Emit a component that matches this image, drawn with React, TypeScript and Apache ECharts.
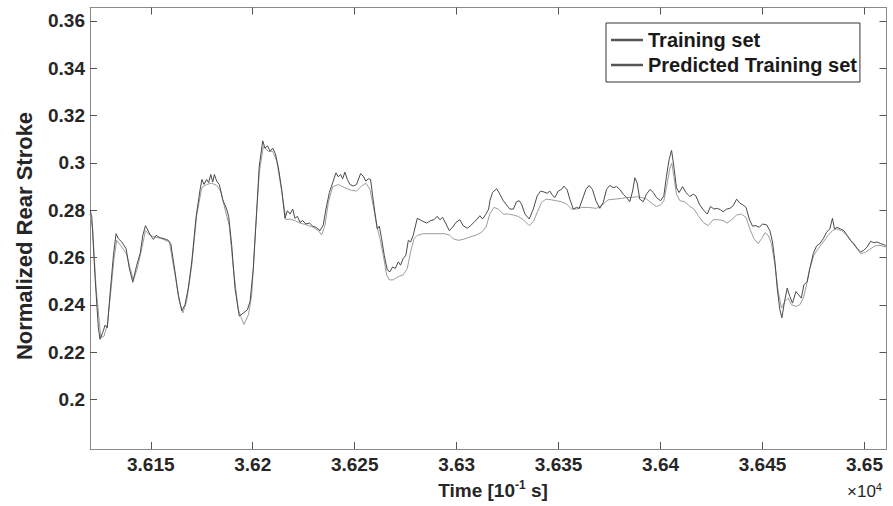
import React, { useEffect, useRef } from 'react';
import * as echarts from 'echarts';

const FONT = '"Liberation Sans", Arial, Helvetica, sans-serif';

const xTicks = [36150, 36200, 36250, 36300, 36350, 36400, 36450, 36500];
const yTicks = [0.2, 0.22, 0.24, 0.26, 0.28, 0.3, 0.32, 0.34, 0.36];
const seriesNames = ['Training set', 'Predicted Training set'];

const trainingSet: [number, number][] = [
  [36120.3, 0.2800], [36121.1, 0.2770], [36122.7, 0.2513], [36124.3, 0.2304], [36125.1, 0.2255],
  [36126.4, 0.2283], [36127.6, 0.2315], [36128.7, 0.2304], [36130.0, 0.2443], [36131.7, 0.2610],
  [36133.0, 0.2701], [36134.1, 0.2680], [36135.8, 0.2666], [36137.9, 0.2638], [36139.5, 0.2554],
  [36141.2, 0.2496], [36143.1, 0.2568], [36144.8, 0.2617], [36146.1, 0.2694], [36147.4, 0.2735],
  [36148.3, 0.2721], [36149.7, 0.2696], [36151.3, 0.2677], [36152.6, 0.2694], [36154.6, 0.2684],
  [36156.5, 0.2680], [36158.6, 0.2673], [36159.8, 0.2659], [36161.9, 0.2540], [36163.5, 0.2443],
  [36165.2, 0.2376], [36166.8, 0.2401], [36168.4, 0.2471], [36170.1, 0.2582], [36172.2, 0.2770],
  [36174.2, 0.2888], [36175.1, 0.2930], [36176.1, 0.2909], [36177.4, 0.2930], [36178.4, 0.2916],
  [36179.4, 0.2951], [36180.4, 0.2919], [36181.2, 0.2951], [36182.3, 0.2923], [36183.6, 0.2909],
  [36185.3, 0.2844], [36187.2, 0.2805], [36188.2, 0.2774], [36189.7, 0.2652], [36191.3, 0.2471],
  [36193.4, 0.2353], [36195.4, 0.2366], [36197.4, 0.2380], [36198.7, 0.2415], [36200.3, 0.2554],
  [36201.9, 0.2791], [36203.2, 0.2986], [36204.9, 0.3093], [36206.0, 0.3062], [36207.2, 0.3072],
  [36208.5, 0.3049], [36209.8, 0.3062], [36211.1, 0.3039], [36212.6, 0.2979], [36214.2, 0.2888],
  [36215.8, 0.2766], [36217.0, 0.2798],
  [36218.3, 0.2784], [36219.6, 0.2805], [36220.7, 0.2766], [36221.9, 0.2774], [36223.2, 0.2749],
  [36224.5, 0.2756], [36226.1, 0.2742], [36227.8, 0.2746], [36229.4, 0.2733], [36231.0, 0.2728],
  [36233.0, 0.2714], [36234.6, 0.2738], [36235.9, 0.2805], [36237.6, 0.2875], [36239.2, 0.2916],
  [36240.8, 0.2958], [36242.0, 0.2941], [36243.1, 0.2951], [36244.1, 0.2933], [36245.2, 0.2961],
  [36246.4, 0.2930], [36247.7, 0.2909], [36249.3, 0.2902], [36250.9, 0.2909], [36252.9, 0.2955],
  [36254.2, 0.2944], [36255.5, 0.2923], [36256.7, 0.2933], [36257.8, 0.2930], [36258.8, 0.2861],
  [36259.9, 0.2791], [36261.1, 0.2721], [36262.1, 0.2733], [36263.2, 0.2680], [36264.5, 0.2610],
  [36266.0, 0.2548], [36267.3, 0.2540], [36268.6, 0.2561], [36269.9, 0.2554], [36271.4, 0.2582],
  [36272.5, 0.2568], [36273.8, 0.2596], [36275.1, 0.2610], [36276.3, 0.2673], [36277.4, 0.2666],
  [36278.7, 0.2694], [36280.7, 0.2766], [36282.8, 0.2756], [36285.3, 0.2746], [36287.2, 0.2756],
  [36288.9, 0.2760], [36290.5, 0.2774], [36291.8, 0.2760], [36293.1, 0.2770], [36294.8, 0.2742],
  [36296.4, 0.2714], [36298.0, 0.2728], [36299.7, 0.2749], [36301.6, 0.2760], [36303.2, 0.2735],
  [36305.2, 0.2724], [36306.8, 0.2735], [36308.5, 0.2749], [36310.1, 0.2763], [36311.4, 0.2777],
  [36312.7, 0.2763], [36314.4, 0.2784], [36315.7, 0.2805],
  [36316.3, 0.2840], [36317.6, 0.2875], [36319.6, 0.2891], [36321.2, 0.2868], [36322.9, 0.2840],
  [36324.5, 0.2822], [36326.1, 0.2805], [36327.8, 0.2805], [36329.4, 0.2836], [36330.7, 0.2840],
  [36331.8, 0.2826], [36333.5, 0.2784], [36335.6, 0.2763], [36337.6, 0.2805], [36339.5, 0.2861],
  [36341.2, 0.2881], [36342.8, 0.2877], [36344.4, 0.2872], [36345.7, 0.2881], [36347.0, 0.2863],
  [36348.2, 0.2854], [36349.8, 0.2881], [36351.4, 0.2888], [36352.6, 0.2902], [36354.2, 0.2886],
  [36355.5, 0.2847], [36357.2, 0.2805], [36358.8, 0.2812], [36360.1, 0.2808], [36361.7, 0.2847],
  [36363.4, 0.2888], [36365.0, 0.2905], [36366.6, 0.2888], [36368.3, 0.2840], [36370.2, 0.2808],
  [36371.9, 0.2833], [36373.5, 0.2888], [36375.1, 0.2905], [36376.8, 0.2895], [36378.4, 0.2900],
  [36380.0, 0.2888], [36381.7, 0.2868], [36383.3, 0.2854], [36384.9, 0.2836], [36386.3, 0.2881],
  [36387.4, 0.2937], [36388.5, 0.2916], [36389.8, 0.2847], [36391.5, 0.2836], [36393.1, 0.2868],
  [36394.8, 0.2888], [36396.4, 0.2875], [36398.0, 0.2854], [36400.0, 0.2840], [36401.6, 0.2861],
  [36402.9, 0.2944], [36404.2, 0.3014], [36405.4, 0.3053], [36406.5, 0.2986], [36407.8, 0.2895],
  [36409.1, 0.2875], [36410.8, 0.2900], [36412.4, 0.2875],
  [36414.4, 0.2858], [36416.0, 0.2868], [36417.3, 0.2861], [36419.0, 0.2826], [36420.9, 0.2802],
  [36422.9, 0.2784], [36424.5, 0.2816], [36426.2, 0.2805], [36427.8, 0.2808], [36429.4, 0.2802],
  [36430.7, 0.2794], [36432.4, 0.2805], [36434.0, 0.2808], [36435.6, 0.2819], [36437.3, 0.2847],
  [36438.9, 0.2830], [36440.5, 0.2822], [36441.9, 0.2812], [36443.5, 0.2763], [36445.1, 0.2733],
  [36446.8, 0.2735], [36448.4, 0.2728], [36450.0, 0.2742], [36452.0, 0.2738], [36453.6, 0.2714],
  [36454.9, 0.2666], [36456.1, 0.2582], [36457.2, 0.2471], [36458.5, 0.2380], [36459.5, 0.2346],
  [36460.8, 0.2415], [36462.1, 0.2471], [36463.4, 0.2436], [36464.7, 0.2408], [36466.4, 0.2457],
  [36467.7, 0.2443], [36469.0, 0.2429], [36470.3, 0.2485], [36471.9, 0.2499], [36473.2, 0.2554],
  [36474.9, 0.2617], [36476.5, 0.2649], [36478.1, 0.2659], [36479.8, 0.2680], [36481.4, 0.2707],
  [36483.0, 0.2721], [36484.3, 0.2766], [36485.3, 0.2721], [36486.6, 0.2728], [36488.3, 0.2721],
  [36489.9, 0.2714], [36491.5, 0.2694], [36493.2, 0.2673], [36494.8, 0.2659], [36496.4, 0.2638],
  [36498.1, 0.2624], [36499.7, 0.2631], [36501.3, 0.2645], [36503.0, 0.2669], [36504.6, 0.2663],
  [36506.2, 0.2666], [36507.9, 0.2659], [36509.5, 0.2655], [36510.5, 0.2649],
];

const predictedSet: [number, number][] = [
  [36120.3, 0.2784], [36121.5, 0.2721], [36123.2, 0.2471], [36125.5, 0.2262], [36127.1, 0.2269],
  [36128.7, 0.2318], [36130.4, 0.2457], [36132.0, 0.2596], [36133.3, 0.2673], [36135.8, 0.2645],
  [36138.2, 0.2613], [36139.9, 0.2554], [36141.5, 0.2506], [36143.4, 0.2554], [36145.6, 0.2638],
  [36147.4, 0.2714], [36149.3, 0.2696], [36152.1, 0.2687], [36155.4, 0.2680], [36159.1, 0.2666],
  [36161.9, 0.2527], [36164.0, 0.2415], [36165.7, 0.2366], [36167.6, 0.2415], [36170.1, 0.2568],
  [36172.5, 0.2777], [36175.0, 0.2895], [36177.4, 0.2909], [36179.9, 0.2914], [36182.3, 0.2905],
  [36184.3, 0.2881], [36186.4, 0.2805], [36188.5, 0.2735], [36190.5, 0.2554], [36192.9, 0.2380],
  [36195.7, 0.2318], [36197.9, 0.2359], [36199.5, 0.2443], [36201.4, 0.2721], [36203.2, 0.2958],
  [36205.2, 0.3069], [36207.7, 0.3049], [36209.8, 0.3049], [36211.8, 0.3007], [36214.2, 0.2881],
  [36216.3, 0.2760],
  [36218.3, 0.2763], [36220.7, 0.2756], [36223.2, 0.2746], [36226.4, 0.2738], [36229.7, 0.2728],
  [36232.2, 0.2714], [36233.8, 0.2696], [36235.4, 0.2735], [36237.1, 0.2833], [36239.2, 0.2899],
  [36242.0, 0.2909], [36245.2, 0.2895], [36248.5, 0.2884], [36250.9, 0.2881], [36253.4, 0.2902],
  [36255.5, 0.2914], [36257.5, 0.2888], [36259.1, 0.2819], [36260.8, 0.2735], [36262.4, 0.2680],
  [36264.0, 0.2610], [36265.7, 0.2527], [36267.0, 0.2506], [36268.9, 0.2506], [36271.4, 0.2520],
  [36273.8, 0.2527], [36275.8, 0.2554], [36277.4, 0.2624], [36279.1, 0.2680], [36280.7, 0.2694],
  [36283.6, 0.2701], [36286.9, 0.2701], [36290.2, 0.2701], [36293.8, 0.2701], [36296.4, 0.2696],
  [36298.3, 0.2680], [36300.8, 0.2673], [36303.2, 0.2677], [36306.5, 0.2687], [36309.8, 0.2696],
  [36312.2, 0.2707], [36314.4, 0.2728],
  [36316.3, 0.2785], [36318.3, 0.2812], [36320.4, 0.2805], [36322.9, 0.2784], [36325.3, 0.2784],
  [36327.8, 0.2780], [36330.2, 0.2774], [36332.7, 0.2760], [36335.6, 0.2735], [36337.6, 0.2752],
  [36339.5, 0.2791], [36341.6, 0.2833], [36343.8, 0.2847], [36346.5, 0.2844], [36349.0, 0.2840],
  [36351.4, 0.2836], [36353.9, 0.2826], [36356.4, 0.2805], [36358.8, 0.2805], [36361.3, 0.2812],
  [36364.5, 0.2812], [36368.6, 0.2808], [36371.9, 0.2826], [36374.3, 0.2844], [36377.6, 0.2847],
  [36380.9, 0.2850], [36383.3, 0.2854], [36385.8, 0.2854], [36388.2, 0.2857], [36390.7, 0.2854],
  [36393.1, 0.2847], [36395.6, 0.2830], [36398.0, 0.2816], [36400.0, 0.2822], [36401.6, 0.2840],
  [36403.3, 0.2916], [36404.6, 0.2979], [36405.5, 0.2999], [36406.5, 0.2944], [36407.8, 0.2868],
  [36409.5, 0.2840], [36411.9, 0.2836],
  [36414.4, 0.2816], [36416.4, 0.2805], [36418.5, 0.2777], [36420.9, 0.2749], [36423.4, 0.2735],
  [36425.8, 0.2760], [36428.3, 0.2760], [36430.7, 0.2756], [36432.7, 0.2746], [36434.8, 0.2760],
  [36437.3, 0.2780], [36439.7, 0.2784], [36441.9, 0.2770], [36443.8, 0.2721], [36445.8, 0.2680],
  [36447.9, 0.2659], [36449.5, 0.2680], [36451.2, 0.2705], [36452.8, 0.2694], [36454.4, 0.2659],
  [36456.1, 0.2568], [36457.7, 0.2457], [36459.3, 0.2387], [36461.0, 0.2415], [36462.6, 0.2429],
  [36464.2, 0.2401], [36466.4, 0.2394], [36468.3, 0.2401], [36470.0, 0.2429], [36471.6, 0.2485],
  [36473.2, 0.2554], [36475.2, 0.2610], [36477.3, 0.2638], [36479.8, 0.2666], [36482.2, 0.2694],
  [36484.3, 0.2714], [36486.3, 0.2721], [36488.7, 0.2714], [36491.2, 0.2696], [36493.7, 0.2666],
  [36496.1, 0.2641], [36498.1, 0.2617], [36500.2, 0.2621], [36502.6, 0.2635], [36505.1, 0.2649],
  [36507.5, 0.2652], [36510.5, 0.2645],
];

const X_MIN = 36120.2;
const X_MAX = 36510.8;
const Y_MIN = 0.1792;
const Y_MAX = 0.3656;

export default function App() {
  const ref = useRef<HTMLDivElement>(null);

  useEffect(() => {
    if (!ref.current) return;
    const chart = echarts.init(ref.current, null, { renderer: 'svg' });
    const axisLineColor = '#8a8a8a';
    const tickColor = '#555555';
    const labelColor = '#262626';

    const baseX = {
      type: 'value',
      min: X_MIN,
      max: X_MAX,
      splitLine: { show: false },
      axisLine: { show: true, onZero: false, lineStyle: { color: axisLineColor, width: 1 } },
      axisTick: { show: true, inside: true, length: 7, customValues: xTicks, lineStyle: { color: tickColor } },
    };
    const baseY = {
      type: 'value',
      min: Y_MIN,
      max: Y_MAX,
      splitLine: { show: false },
      axisLine: { show: true, onZero: false, lineStyle: { color: axisLineColor, width: 1 } },
      axisTick: { show: true, inside: true, length: 7, customValues: yTicks, lineStyle: { color: tickColor } },
    };

    chart.setOption({
      animation: false,
      backgroundColor: '#ffffff',
      grid: { left: 90, right: 6.5, top: 7.5, bottom: 57, containLabel: false },
      xAxis: [
        {
          ...baseX,
          position: 'bottom',
          axisLabel: {
            show: true,
            customValues: xTicks,
            margin: 6,
            fontSize: 19,
            fontWeight: 'bold',
            fontFamily: FONT,
            color: labelColor,
            formatter: (v: number) => String(+(v / 10000).toFixed(4)),
          },
        },
        { ...baseX, position: 'top', axisLabel: { show: false } },
      ],
      yAxis: [
        {
          ...baseY,
          position: 'left',
          axisLabel: {
            show: true,
            customValues: yTicks,
            margin: 5,
            fontSize: 19,
            fontWeight: 'bold',
            fontFamily: FONT,
            color: labelColor,
            formatter: (v: number) => String(+v.toFixed(2)),
          },
        },
        { ...baseY, position: 'right', axisLabel: { show: false } },
      ],
      legend: {
        orient: 'vertical',
        left: 606,
        top: 23,
        padding: [7, 3, 7, 5],
        itemGap: 5,
        itemWidth: 32,
        itemHeight: 2.5,
        icon: 'rect',
        borderColor: '#333333',
        borderWidth: 1,
        backgroundColor: '#ffffff',
        textStyle: { fontSize: 20, fontWeight: 'bold', fontFamily: FONT, color: '#1a1a1a', lineHeight: 20 },
        data: [
          { name: seriesNames[0], itemStyle: { color: '#555555' } },
          { name: seriesNames[1], itemStyle: { color: '#555555' } },
        ],
      },
      series: [
        {
          name: seriesNames[1],
          type: 'line',
          data: predictedSet,
          showSymbol: false,
          symbol: 'none',
          lineStyle: { color: '#9c9c9c', width: 1 },
          itemStyle: { color: '#9c9c9c' },
          z: 2,
        },
        {
          name: seriesNames[0],
          type: 'line',
          data: trainingSet,
          showSymbol: false,
          symbol: 'none',
          lineStyle: { color: '#4a4a4a', width: 1 },
          itemStyle: { color: '#4a4a4a' },
          z: 3,
        },
      ],
      graphic: [
        {
          type: 'text',
          x: 24,
          y: 236,
          rotation: Math.PI / 2,
          style: {
            text: 'Normalized Rear Stroke',
            fontSize: 22,
            fontWeight: 'bold',
            fontFamily: FONT,
            fill: labelColor,
            align: 'center',
            verticalAlign: 'middle',
          },
        },
        {
          type: 'text',
          x: 493,
          y: 490,
          style: {
            text: '{a|Time [10}{b|-1}{a| s]}',
            align: 'center',
            verticalAlign: 'middle',
            rich: {
              a: { fontSize: 19, fontWeight: 'bold', fontFamily: FONT, fill: labelColor, lineHeight: 22 },
              b: { fontSize: 12, fontWeight: 'bold', fontFamily: FONT, fill: labelColor, verticalAlign: 'top' },
            },
          },
        },
        {
          type: 'text',
          x: 847,
          y: 491,
          style: {
            text: '{a|×10}{b|4}',
            align: 'left',
            verticalAlign: 'middle',
            rich: {
              a: { fontSize: 17, fontFamily: FONT, fill: labelColor, lineHeight: 20 },
              b: { fontSize: 11, fontFamily: FONT, fill: labelColor, verticalAlign: 'top' },
            },
          },
        },
      ],
    });

    return () => chart.dispose();
  }, []);

  return (
    <div
      ref={ref}
      style={{ position: 'absolute', left: 0, top: 0, width: 893, height: 506 }}
    />
  );
}
